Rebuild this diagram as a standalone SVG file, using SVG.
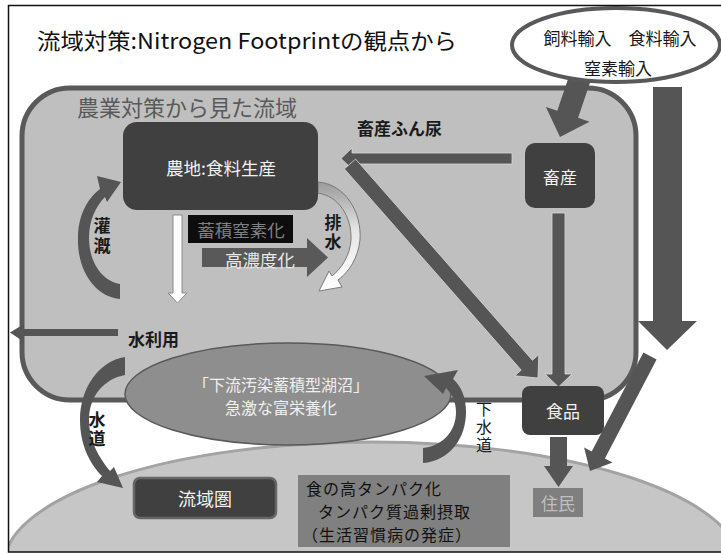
<svg xmlns="http://www.w3.org/2000/svg" width="721" height="554" viewBox="0 0 721 554">
<style>
text{font-family:"Noto Sans CJK JP","Noto Sans",sans-serif;dominant-baseline:central}
.c{text-anchor:middle}
.w{fill:#f2f2f2}
.k{fill:#1a1a1a}
.b{font-weight:bold}
.v{writing-mode:vertical-rl;text-anchor:middle}
.box{fill:#404040}
.arr{fill:#555555;stroke:#d9d9d9;stroke-width:0.8}
.arrn{fill:#555555}
</style>
<defs>
<clipPath id="frameClip"><rect x="8" y="5" width="713" height="547"/></clipPath>
<linearGradient id="drainGrad" x1="0" y1="0" x2="0" y2="1">
<stop offset="0" stop-color="#9a9a9a"/>
<stop offset="0.45" stop-color="#e6e6e6"/>
<stop offset="1" stop-color="#ffffff"/>
</linearGradient>
</defs>
<rect x="0" y="0" width="721" height="554" fill="#ffffff"/>

<g id="residential-area" clip-path="url(#frameClip)">
<ellipse cx="372" cy="565" rx="368" ry="123" fill="#c6c6c6" stroke="#a3a3a3" stroke-width="3"/>
</g>

<g id="title">
<text x="37" y="39" font-size="22" fill="#111" textLength="420" lengthAdjust="spacingAndGlyphs">流域対策:Nitrogen Footprintの観点から</text>
</g>

<g id="basin">
<rect x="22" y="88" width="614" height="312" rx="48" ry="48" fill="#bfbfbf" stroke="#595959" stroke-width="5"/>
<text x="77" y="106" font-size="22" fill="#5a5a5a">農業対策から見た流域</text>
</g>

<g id="lake">
<ellipse cx="288" cy="394" rx="163" ry="51" fill="#8e8e8e" stroke="#595959" stroke-width="1.5"/>
<text font-size="16" fill="#f0f0f0" class="c"><tspan x="281" y="383.5">「下流汚染蓄積型湖沼」</tspan><tspan x="281" y="406.5">急激な富栄養化</tspan></text>
</g>

<g id="connectors">
<polygon class="arrn" points="571.6,68.5 557.3,110.8 545.9,106.9 560,137 589.5,121.7 578.1,117.8 592.4,75.5"/>
<polygon class="arrn" points="653,87 682,87 682,321 697,321 667,350 638,321 653,321"/>
<polygon class="arrn" points="643.4,352.5 591.7,451.5 584.1,447.6 590,471 612.5,462.4 604.9,458.5 656.6,359.5"/>
<polygon class="arr" points="512,153 352,153 352,148 341,158.5 352,169 352,164 512,164"/>
<polygon class="arr" points="355.6,159.1 532.4,360.3 538.8,354.6 538,378 514.8,375.8 521.2,370.1 344.4,168.9"/>
<polygon class="arr" points="552,213 565,213 565,374 572,374 558.5,387 545,374 552,374"/>
<polygon class="arrn" points="550,437 567,437 567,466 573,466 558.5,487 544,466 550,466"/>
<polygon class="arrn" points="118,329 24,329 24,324 10,332.5 24,342 24,336 118,336"/>
<path class="arrn" d="M120,284 L120,299 C95,297 77,270 78,238 C78,216 87,199 100,189 L97,176 L121,182 L107,202 L105,197 C96,206 89,220 89,238 C89,262 102,281 120,284 Z"/>
<path d="M318,182 C345,184 362,212 360,240 C358,258 349,272 338,280 L342,287 L319,291 L329,271 L332,276 C342,268 350,255 351,240 C352,216 338,196 318,193 Z" fill="url(#drainGrad)" stroke="#7a7a7a" stroke-width="1"/>
<polygon points="173,215 182,215 182,293 187,293 177.5,303 168,293 173,293" fill="#ffffff" stroke="#8a8a8a" stroke-width="1"/>
<polygon points="202,248 307,248 307,238 328,257.5 307,277 307,267 202,267" fill="#595959"/>
<path class="arrn" d="M125,357 C99,361 80,388 80,420 C80,445 90,464 102,476 L97,482 L123,488 L114,467 L110,471 C99,458 89,440 89,420 C89,396 104,379 125,375 Z"/>
<path class="arrn" d="M423,448 L423,463 C450,461 466,438 466,412 C466,397 461,386 453,379 L458,370 L424,376 L443,394 L446,388 C452,394 456,402 456,412 C456,432 442,446 423,448 Z"/>
</g>

<g id="labels">
<text x="357" y="127" font-size="17" class="k b">畜産ふん尿</text>
<text x="102" y="237" font-size="17" class="v k b" letter-spacing="3">灌漑</text>
<text x="333" y="233" font-size="17" class="v k b" letter-spacing="2">排水</text>
<text x="128" y="338" font-size="17" class="k b">水利用</text>
<text x="97" y="430" font-size="17" class="v k b" letter-spacing="2">水道</text>
<text x="484" y="428" font-size="16" class="v k" letter-spacing="2">下水道</text>
<text x="260" y="259.5" font-size="17.5" class="c" fill="#e8e8e8">高濃度化</text>
</g>

<g id="accumulated-nitrogen">
<rect x="188" y="215" width="105" height="28" fill="#0d0d0d"/>
<text x="241" y="229.5" font-size="17.5" class="c" fill="#808080">蓄積窒素化</text>
</g>

<g id="imports">
<ellipse cx="616" cy="45" rx="104" ry="37" fill="#ffffff" stroke="#595959" stroke-width="4"/>
<text x="620" y="37" font-size="17" class="c k">飼料輸入　食料輸入</text>
<text x="618" y="67" font-size="17" class="c k">窒素輸入</text>
</g>

<g id="farmland">
<rect x="123" y="122" width="195" height="88" rx="14" ry="14" class="box"/>
<text x="221" y="167" font-size="17.5" class="c w">農地:食料生産</text>
</g>

<g id="livestock">
<rect x="525" y="143" width="70" height="65" rx="10" ry="10" class="box"/>
<text x="560" y="176" font-size="17" class="c w">畜産</text>
</g>

<g id="food">
<rect x="522" y="386" width="82" height="49" rx="8" ry="8" class="box"/>
<text x="563" y="410" font-size="17" class="c w">食品</text>
</g>

<g id="residents">
<rect x="533" y="488" width="50" height="29" fill="#7f7f7f"/>
<text x="558" y="502.5" font-size="17" class="c" fill="#bfbfbf">住民</text>
</g>

<g id="basin-zone">
<rect x="134" y="478" width="142" height="40" rx="6" ry="6" fill="#404040" stroke="#666666" stroke-width="2.5"/>
<text x="205" y="498" font-size="18" class="c w">流域圏</text>
</g>

<g id="protein">
<rect x="298" y="475" width="212" height="72" fill="#808080"/>
<text font-size="16" fill="#111" letter-spacing="1"><tspan x="306" y="488">食の高タンパク化</tspan><tspan x="318" y="511">タンパク質過剰摂取</tspan><tspan x="302" y="534">（生活習慣病の発症）</tspan></text>
</g>

<rect id="frame" x="8.5" y="5.5" width="720" height="546.5" fill="none" stroke="#111" stroke-width="1.5"/>
</svg>
